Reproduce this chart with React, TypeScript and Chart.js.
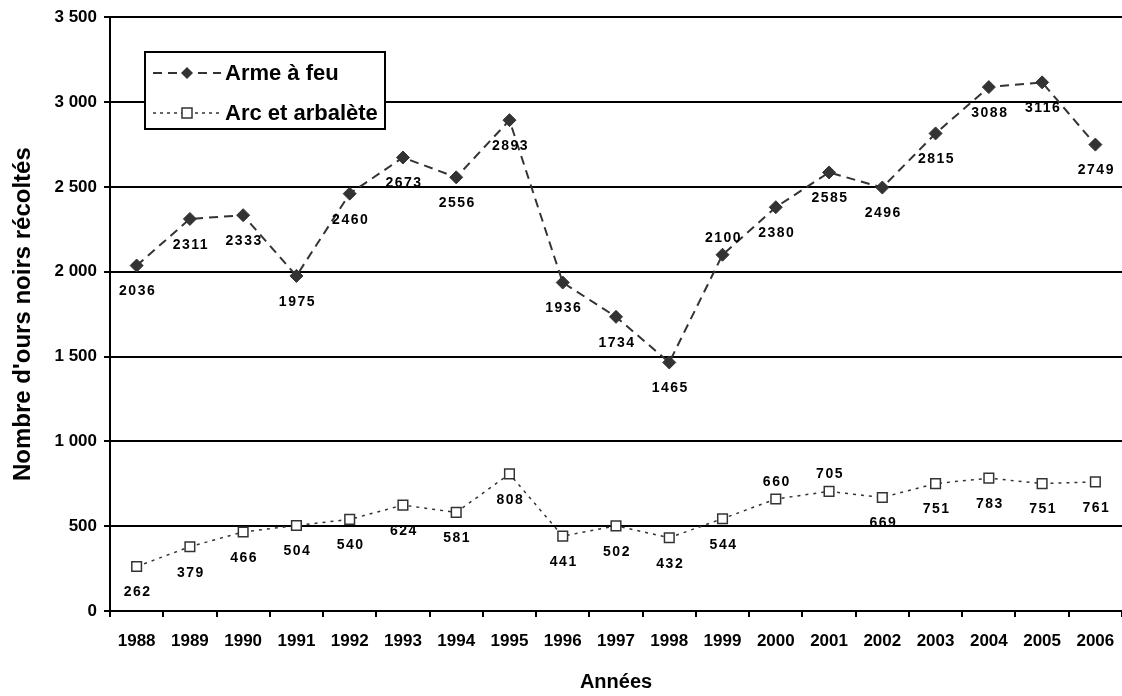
import React, { useEffect, useRef } from "react";
import { Chart, registerables } from "chart.js";

Chart.register(...registerables);

const years = ["1988","1989","1990","1991","1992","1993","1994","1995","1996","1997","1998","1999","2000","2001","2002","2003","2004","2005","2006"];
const armeAFeu = [2036, 2311, 2333, 1975, 2460, 2673, 2556, 2893, 1936, 1734, 1465, 2100, 2380, 2585, 2496, 2815, 3088, 3116, 2749];
const arcArbalete = [262, 379, 466, 504, 540, 624, 581, 808, 441, 502, 432, 544, 660, 705, 669, 751, 783, 751, 761];
const seriesNames = ["Arme à feu", "Arc et arbalète"];
const yTitle = "Nombre d'ours noirs récoltés";
const xTitle = "Années";
// label placement per point: 1 = above, 0 = below
const armeLabelAbove = [0,0,0,0,0,0,0,0,0,0,0,1,0,0,0,0,0,0,0];
const arcLabelAbove = [0,0,0,0,0,0,0,0,0,0,0,0,1,1,0,0,0,0,0];

const FONT = "'Liberation Sans', Arial, sans-serif";
const INK = "#333333";

const fmt = (v: number) => String(v).replace(/\B(?=(\d{3})+(?!\d))/g, " ");

const labelPlugin = {
  id: "pointLabels",
  afterDatasetsDraw(chart: any) {
    const ctx = chart.ctx;
    const above = [armeLabelAbove, arcLabelAbove];
    ctx.save();
    ctx.font = `bold 14px ${FONT}`;
    (ctx as any).letterSpacing = "1.5px";
    ctx.fillStyle = "#000";
    ctx.textAlign = "center";
    ctx.textBaseline = "middle";
    chart.data.datasets.forEach((ds: any, i: number) => {
      const meta = chart.getDatasetMeta(i);
      meta.data.forEach((pt: any, j: number) => {
        const up = above[i][j] === 1;
        const y = up ? pt.y - 17 : pt.y + 26;
        ctx.fillText(String(ds.data[j]), pt.x + 1, y);
      });
    });
    ctx.restore();
  },
};

const legendPlugin = {
  id: "boxLegend",
  afterDraw(chart: any) {
    const ctx = chart.ctx;
    const x0 = 145, y0 = 52, w = 240, h = 77;
    ctx.save();
    ctx.fillStyle = "#fff";
    ctx.fillRect(x0, y0, w, h);
    ctx.lineWidth = 2;
    ctx.strokeStyle = "#000";
    ctx.strokeRect(x0, y0, w, h);
    const rows = [73, 113];
    ctx.strokeStyle = INK;
    ctx.lineWidth = 2;
    ctx.setLineDash([9, 6]);
    ctx.beginPath();
    ctx.moveTo(153, rows[0]);
    ctx.lineTo(221, rows[0]);
    ctx.stroke();
    ctx.setLineDash([]);
    ctx.fillStyle = INK;
    ctx.beginPath();
    ctx.moveTo(187, rows[0] - 6);
    ctx.lineTo(193, rows[0]);
    ctx.lineTo(187, rows[0] + 6);
    ctx.lineTo(181, rows[0]);
    ctx.closePath();
    ctx.fill();
    ctx.lineWidth = 1.5;
    ctx.setLineDash([3, 4]);
    ctx.beginPath();
    ctx.moveTo(153, rows[1]);
    ctx.lineTo(221, rows[1]);
    ctx.stroke();
    ctx.setLineDash([]);
    ctx.fillStyle = "#fff";
    ctx.fillRect(182, rows[1] - 5, 10, 10);
    ctx.lineWidth = 1.5;
    ctx.strokeRect(182, rows[1] - 5, 10, 10);
    ctx.fillStyle = "#000";
    ctx.font = `bold 22px ${FONT}`;
    ctx.textAlign = "left";
    ctx.textBaseline = "middle";
    ctx.fillText(seriesNames[0], 225, rows[0] + 1);
    ctx.fillText(seriesNames[1], 225, rows[1] + 1);
    ctx.restore();
  },
};

export default function App() {
  const ref = useRef<HTMLCanvasElement | null>(null);
  useEffect(() => {
    document.body.style.margin = "0";
    const canvas = ref.current;
    if (!canvas) return;
    Chart.defaults.font.family = FONT;
    Chart.defaults.color = "#000";
    const chart = new Chart(canvas, {
      type: "line",
      data: {
        labels: years,
        datasets: [
          {
            label: seriesNames[0],
            data: armeAFeu,
            borderColor: INK,
            backgroundColor: INK,
            borderWidth: 2,
            borderDash: [9, 6],
            pointStyle: "rectRot",
            pointRadius: 6.5,
            pointBackgroundColor: INK,
            pointBorderColor: INK,
            pointBorderWidth: 1,
            tension: 0,
          },
          {
            label: seriesNames[1],
            data: arcArbalete,
            borderColor: INK,
            backgroundColor: "#fff",
            borderWidth: 1.5,
            borderDash: [3, 5],
            pointStyle: "rect",
            pointRadius: 6.8,
            pointBackgroundColor: "#fff",
            pointBorderColor: INK,
            pointBorderWidth: 1.5,
            tension: 0,
          },
        ],
      },
      options: {
        responsive: false,
        animation: false,
        layout: { autoPadding: false, padding: { top: 16, right: 0, left: 0, bottom: 0 } },
        plugins: {
          legend: { display: false },
          tooltip: { enabled: false },
        },
        scales: {
          x: {
            offset: true,
            grid: {
              offset: true,
              drawOnChartArea: false,
              drawTicks: true,
              tickLength: 6,
              color: "#000",
              lineWidth: 2,
            },
            border: { display: true, color: "#000", width: 2 },
            ticks: {
              font: { size: 17, weight: "bold" },
              color: "#000",
              padding: 14,
              maxRotation: 0,
              autoSkip: false,
            },
            title: {
              display: true,
              text: xTitle,
              font: { size: 20, weight: "bold" },
              color: "#000",
              padding: { top: 0, bottom: 2 },
            },
            afterFit(scale: any) {
              scale.height = 85;
              scale.paddingRight = 0;
              scale.paddingLeft = 0;
            },
          },
          y: {
            min: 0,
            max: 3500,
            grid: {
              color: "#000",
              lineWidth: 2,
              tickLength: 6,
              drawTicks: true,
            },
            border: { display: true, color: "#000", width: 2 },
            ticks: {
              stepSize: 500,
              font: { size: 17, weight: "bold" },
              color: "#000",
              padding: 7,
              callback: (v: any) => fmt(Number(v)),
            },
            title: {
              display: true,
              text: yTitle,
              font: { size: 24, weight: "bold" },
              color: "#000",
              padding: { top: 9, bottom: 0 },
            },
            afterFit(scale: any) {
              scale.width = 110;
            },
          },
        },
      },
      plugins: [labelPlugin, legendPlugin],
    });
    return () => chart.destroy();
  }, []);
  return (
    <div style={{ width: 1122, height: 696, background: "#fff" }}>
      <canvas ref={ref} width={1122} height={696} />
    </div>
  );
}
